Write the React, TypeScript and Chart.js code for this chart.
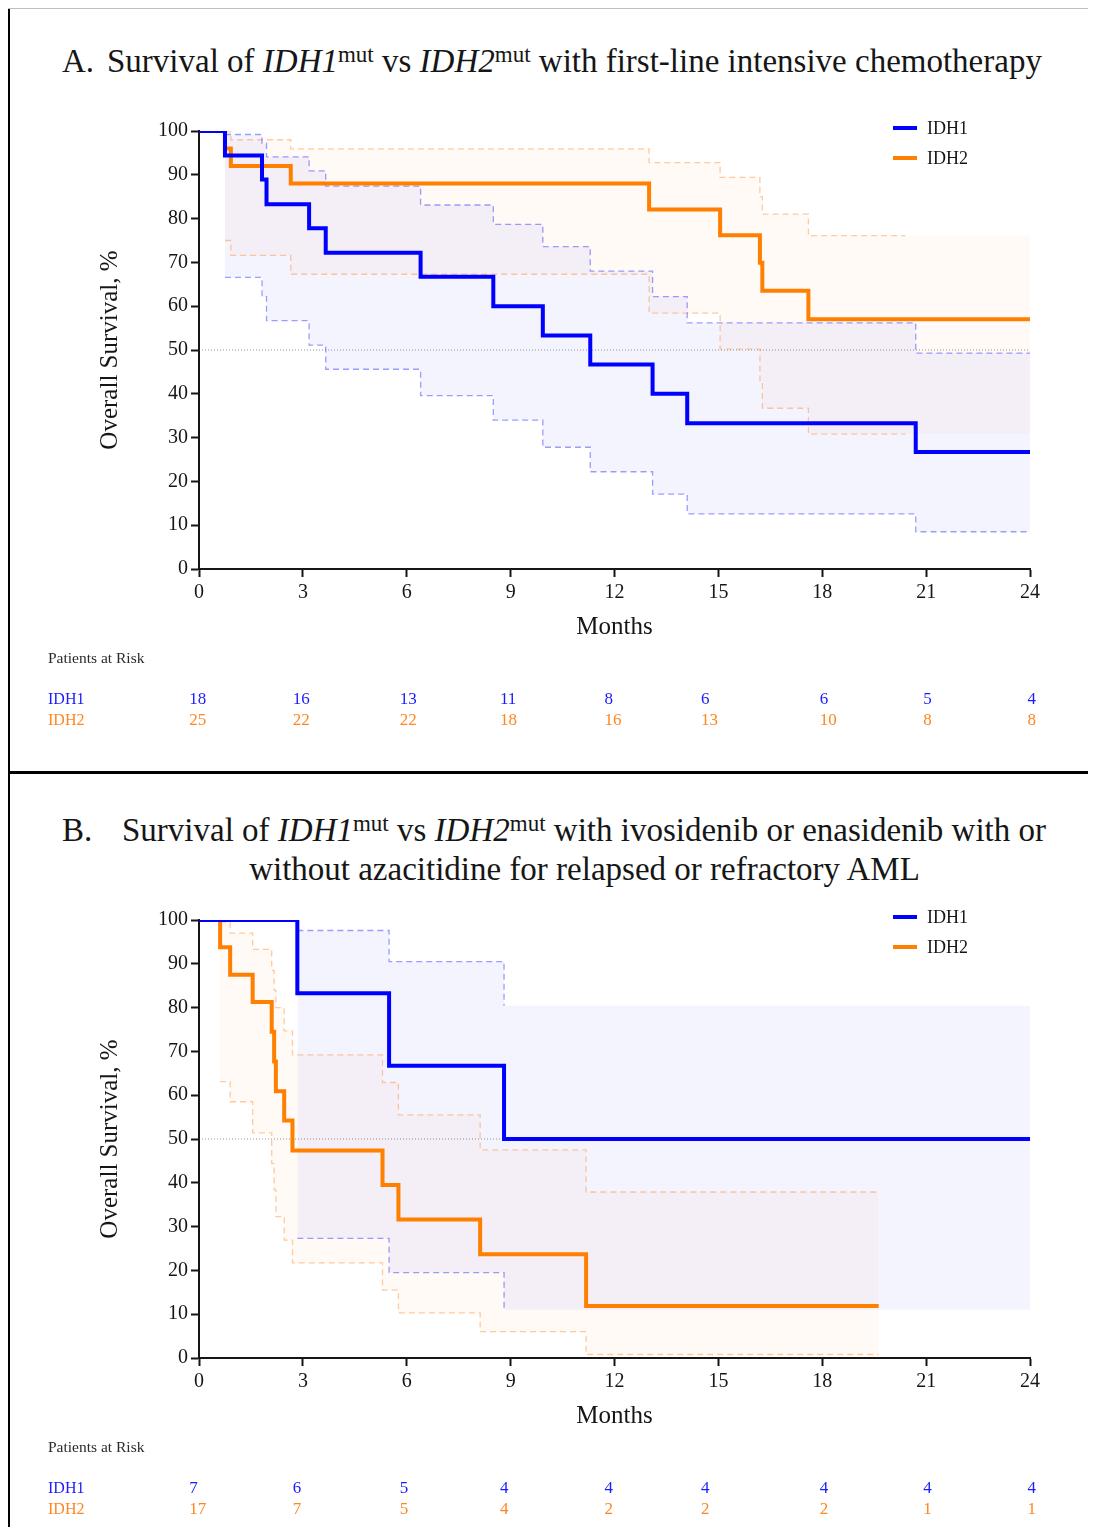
import React, { useEffect, useRef } from 'react';
import { Chart, registerables } from 'chart.js';

Chart.register(...registerables);

const SERIF = "'Liberation Serif', 'Times New Roman', Times, serif";
const BLUE = '#0000ff';
const ORANGE = '#ff7f00';
const BLUE_CI = 'rgba(40,40,255,0.45)';
const ORANGE_CI = 'rgba(255,140,40,0.45)';
const BLUE_BAND = 'rgba(0,0,255,0.045)';
const ORANGE_BAND = 'rgba(255,128,0,0.04)';
const INK = '#161616';

const seriesNames = ['IDH1', 'IDH2'];
const monthMin = 0;
const monthMax = 24;
const monthStep = 3;
const survMin = 0;
const survMax = 100;
const survStep = 10;
const medianLine = 50;
const riskColumnMonths = [-0.28, 2.71, 5.8, 8.69, 11.71, 14.5, 17.93, 20.92, 23.93];

// ---------- Panel A: first-line intensive chemotherapy ----------
const aIdh1Times = [0, 0.75, 1.82, 1.95, 3.18, 3.66, 6.4, 8.5, 9.93, 11.3, 13.1, 14.1, 20.7, 24];
const aIdh1Surv = [100, 94.4, 88.9, 83.3, 77.8, 72.2, 66.7, 60.0, 53.3, 46.7, 40.0, 33.3, 26.7, 26.7];
const aIdh1CiTimes = [0.75, 1.82, 1.95, 3.18, 3.66, 6.4, 8.5, 9.93, 11.3, 13.1, 14.1, 20.7, 24];
const aIdh1CiUpper = [99.2, 97.2, 94.1, 90.9, 87.4, 83.1, 78.7, 73.6, 68.0, 62.2, 56.2, 49.3, 49.3];
const aIdh1CiLower = [66.6, 62.2, 56.7, 51.1, 45.6, 39.6, 34.0, 27.8, 22.2, 17.1, 12.6, 8.5, 8.5];
const aIdh1CiLineEnd = 24;

const aIdh2Times = [0, 0.75, 0.92, 2.65, 13.0, 15.05, 16.2, 16.27, 17.6, 24];
const aIdh2Surv = [100, 96, 92, 88, 82.1, 76.2, 69.9, 63.5, 57.0, 57.0];
const aIdh2CiTimes = [0.75, 0.92, 2.65, 13.0, 15.05, 16.2, 16.27, 17.6, 24];
const aIdh2CiUpper = [99.8, 98.0, 95.9, 92.8, 89.4, 85.0, 81.0, 76.1, 76.1];
const aIdh2CiLower = [75.0, 71.6, 67.3, 58.4, 50.2, 43.0, 36.7, 30.8, 30.8];
const aIdh2CiLineEnd = 20.4;

const aIdh1Risk = [18, 16, 13, 11, 8, 6, 6, 5, 4];
const aIdh2Risk = [25, 22, 22, 18, 16, 13, 10, 8, 8];

// ---------- Panel B: ivosidenib / enasidenib +/- azacitidine ----------
const bIdh1Times = [0, 2.84, 5.49, 8.81, 24];
const bIdh1Surv = [100, 83.3, 66.7, 50.0, 50.0];
const bIdh1CiTimes = [2.84, 5.49, 8.81, 24];
const bIdh1CiUpper = [97.6, 90.5, 80.4, 80.4];
const bIdh1CiLower = [27.3, 19.5, 11.0, 11.0];
const bIdh1CiLineEnd = 8.81;

const bIdh2Times = [0, 0.61, 0.9, 1.55, 2.1, 2.17, 2.22, 2.46, 2.7, 5.3, 5.76, 8.12, 11.18, 19.63];
const bIdh2Surv = [100, 93.8, 87.5, 81.3, 74.5, 67.7, 60.9, 54.2, 47.4, 39.5, 31.6, 23.7, 11.9, 11.9];
const bIdh2CiTimes = [0.61, 0.9, 1.55, 2.1, 2.17, 2.22, 2.46, 2.7, 5.3, 5.76, 8.12, 11.18, 19.63];
const bIdh2CiUpper = [99.5, 97.0, 93.3, 88.5, 84.0, 80.0, 74.7, 69.2, 62.9, 55.5, 47.5, 37.9, 37.9];
const bIdh2CiLower = [63.1, 58.5, 51.4, 44.4, 38.4, 32.3, 26.9, 21.7, 15.5, 10.3, 6.0, 0.8, 0.8];
const bIdh2CiLineEnd = 19.63;

const bIdh1Risk = [7, 6, 5, 4, 4, 4, 4, 4, 4];
const bIdh2Risk = [17, 7, 5, 4, 2, 2, 2, 1, 1];

type Pt = { x: number; y: number };
const pts = (xs: number[], ys: number[]): Pt[] => xs.map((x, i) => ({ x, y: ys[i] }));
const upTo = (xs: number[], ys: number[], end: number): Pt[] => {
  const out: Pt[] = [];
  for (let i = 0; i < xs.length; i++) if (xs[i] <= end) out.push({ x: xs[i], y: ys[i] });
  if (out.length && out[out.length - 1].x < end) out.push({ x: end, y: out[out.length - 1].y });
  return out;
};

interface Group {
  name: string;
  times: number[];
  surv: number[];
  ciTimes: number[];
  ciUpper: number[];
  ciLower: number[];
  ciLineEnd: number;
  risk: number[];
  color: string;
  ciColor: string;
  bandColor: string;
  riskColor: string;
}

function buildDatasets(groups: Group[]) {
  const ds: any[] = [];
  const base = { pointRadius: 0, pointHoverRadius: 0, stepped: 'before', tension: 0 };
  groups.forEach((g) => {
    const lowerIdx = ds.length;
    ds.push({ ...base, data: pts(g.ciTimes, g.ciLower), borderColor: 'transparent', borderWidth: 0, fill: false, order: 10 });
    ds.push({ ...base, data: pts(g.ciTimes, g.ciUpper), borderColor: 'transparent', borderWidth: 0, backgroundColor: g.bandColor, fill: lowerIdx, order: 10 });
  });
  ds.push({
    ...base,
    stepped: false,
    data: [{ x: monthMin, y: medianLine }, { x: monthMax, y: medianLine }],
    borderColor: 'rgba(60,60,60,0.55)',
    borderWidth: 1,
    borderDash: [1, 2],
    fill: false,
    order: 6,
  });
  groups.forEach((g) => {
    ds.push({ ...base, data: upTo(g.ciTimes, g.ciUpper, g.ciLineEnd), borderColor: g.ciColor, borderWidth: 1.3, borderDash: [6, 4], fill: false, order: 4 });
    ds.push({ ...base, data: upTo(g.ciTimes, g.ciLower, g.ciLineEnd), borderColor: g.ciColor, borderWidth: 1.3, borderDash: [6, 4], fill: false, order: 4 });
  });
  groups.forEach((g, i) => {
    ds.push({ ...base, label: g.name, data: pts(g.times, g.surv), borderColor: g.color, borderWidth: 4, borderJoinStyle: 'miter', borderCapStyle: 'butt', fill: false, order: i });
  });
  return ds;
}

const tableAndLegend = (groups: Group[]) => ({
  id: 'tableAndLegend',
  afterDraw(chart: any) {
    const ctx = chart.ctx as CanvasRenderingContext2D;
    const area = chart.chartArea;
    const xs = chart.scales.x;
    ctx.save();
    groups.forEach((g, i) => {
      const y = area.top - 3 + i * 30;
      ctx.strokeStyle = g.color;
      ctx.lineWidth = 4;
      ctx.beginPath();
      ctx.moveTo(area.right - 137, y);
      ctx.lineTo(area.right - 113, y);
      ctx.stroke();
      ctx.fillStyle = INK;
      ctx.font = `18px ${SERIF}`;
      ctx.textAlign = 'left';
      ctx.textBaseline = 'middle';
      ctx.fillText(g.name, area.right - 103, y + 1);
    });
    const labelX = 36;
    ctx.textBaseline = 'middle';
    ctx.textAlign = 'left';
    ctx.fillStyle = '#2a2a2a';
    ctx.font = `15.5px ${SERIF}`;
    ctx.fillText('Patients at Risk', labelX, area.bottom + 90);
    groups.forEach((g, i) => {
      const y = area.bottom + 131 + i * 20.5;
      ctx.fillStyle = g.riskColor;
      ctx.font = `16px ${SERIF}`;
      ctx.fillText(g.name, labelX, y);
      ctx.font = `17px ${SERIF}`;
      g.risk.forEach((n, k) => {
        ctx.fillText(String(n), xs.getPixelForValue(riskColumnMonths[k]), y);
      });
    });
    ctx.restore();
  },
});

function KMPanel(props: { groups: Group[]; left: number; top: number; width: number; height: number; padTop: number; padBottom: number }) {
  const ref = useRef<HTMLCanvasElement>(null);
  useEffect(() => {
    const tickFont = { family: SERIF, size: 20 };
    const titleFont = { family: SERIF, size: 25 };
    const chart = new Chart(ref.current as HTMLCanvasElement, {
      type: 'line',
      data: { datasets: buildDatasets(props.groups) },
      options: {
        animation: false,
        responsive: false,
        maintainAspectRatio: false,
        events: [],
        layout: { padding: { left: 79, right: 62, top: props.padTop, bottom: props.padBottom } },
        plugins: { legend: { display: false }, tooltip: { enabled: false }, title: { display: false } },
        scales: {
          x: {
            type: 'linear',
            min: monthMin,
            max: monthMax,
            ticks: { stepSize: monthStep, font: tickFont, color: INK, padding: 4, maxRotation: 0, autoSkip: false },
            grid: { drawOnChartArea: false, drawTicks: true, tickLength: 8, tickColor: INK, tickWidth: 2 },
            border: { color: INK, width: 2 },
            title: { display: true, text: 'Months', font: titleFont, color: INK, padding: { top: 0, bottom: 2 } },
            afterFit: (s: any) => { s.height = 75; },
          },
          y: {
            type: 'linear',
            min: survMin,
            max: survMax,
            ticks: { stepSize: survStep, font: tickFont, color: INK, padding: 3 },
            grid: { drawOnChartArea: false, drawTicks: true, tickLength: 8, tickColor: INK, tickWidth: 2 },
            border: { color: INK, width: 2 },
            title: { display: true, text: 'Overall Survival, %', font: titleFont, color: INK, padding: { top: 4, bottom: 0 } },
            afterFit: (s: any) => { s.width = 108; },
          },
        },
      } as any,
      plugins: [tableAndLegend(props.groups)],
    });
    return () => chart.destroy();
  }, []);
  return (
    <canvas
      ref={ref}
      width={props.width}
      height={props.height}
      style={{ position: 'absolute', left: props.left, top: props.top, width: props.width, height: props.height }}
    />
  );
}

const groupsA: Group[] = [
  { name: seriesNames[0], times: aIdh1Times, surv: aIdh1Surv, ciTimes: aIdh1CiTimes, ciUpper: aIdh1CiUpper, ciLower: aIdh1CiLower, ciLineEnd: aIdh1CiLineEnd, risk: aIdh1Risk, color: BLUE, ciColor: BLUE_CI, bandColor: BLUE_BAND, riskColor: '#1c1cff' },
  { name: seriesNames[1], times: aIdh2Times, surv: aIdh2Surv, ciTimes: aIdh2CiTimes, ciUpper: aIdh2CiUpper, ciLower: aIdh2CiLower, ciLineEnd: aIdh2CiLineEnd, risk: aIdh2Risk, color: ORANGE, ciColor: ORANGE_CI, bandColor: ORANGE_BAND, riskColor: '#ff8620' },
];
const groupsB: Group[] = [
  { name: seriesNames[0], times: bIdh1Times, surv: bIdh1Surv, ciTimes: bIdh1CiTimes, ciUpper: bIdh1CiUpper, ciLower: bIdh1CiLower, ciLineEnd: bIdh1CiLineEnd, risk: bIdh1Risk, color: BLUE, ciColor: BLUE_CI, bandColor: BLUE_BAND, riskColor: '#1c1cff' },
  { name: seriesNames[1], times: bIdh2Times, surv: bIdh2Surv, ciTimes: bIdh2CiTimes, ciUpper: bIdh2CiUpper, ciLower: bIdh2CiLower, ciLineEnd: bIdh2CiLineEnd, risk: bIdh2Risk, color: ORANGE, ciColor: ORANGE_CI, bandColor: ORANGE_BAND, riskColor: '#ff8620' },
];

const Mut = () => (
  <span style={{ fontSize: 23, position: 'relative', top: -10, fontStyle: 'normal' }}>mut</span>
);

const titleStyle: React.CSSProperties = {
  position: 'absolute',
  fontFamily: SERIF,
  fontSize: 33,
  lineHeight: '40px',
  color: INK,
  whiteSpace: 'nowrap',
};

export default function App() {
  return (
    <div style={{ position: 'relative', width: 1088, height: 1519, fontFamily: SERIF }}>
      <div style={{ position: 'absolute', left: -2, top: 0, width: 4, height: 1519, background: '#000' }} />
      <div style={{ position: 'absolute', left: 0, top: 0, width: 1088, height: 1, background: '#bdbdbd' }} />
      <div style={{ position: 'absolute', left: 0, top: 763, width: 1088, height: 3, background: '#000' }} />

      <div style={{ ...titleStyle, left: 54, top: 33 }}>A.</div>
      <div style={{ ...titleStyle, left: 99, top: 33 }}>
        Survival of <i>IDH1</i><Mut /> vs <i>IDH2</i><Mut /> with first-line intensive chemotherapy
      </div>

      <div style={{ ...titleStyle, left: 54, top: 802 }}>B.</div>
      <div style={{ ...titleStyle, left: 114, top: 802 }}>
        Survival of <i>IDH1</i><Mut /> vs <i>IDH2</i><Mut /> with ivosidenib or enasidenib with or
      </div>
      <div style={{ ...titleStyle, left: 576.5, top: 841, transform: 'translateX(-50%)' }}>
        without azacitidine for relapsed or refractory AML
      </div>

      <KMPanel groups={groupsA} left={4} top={82} width={1080} height={680} padTop={41} padBottom={126} />
      <KMPanel groups={groupsB} left={4} top={870} width={1080} height={645} padTop={42} padBottom={90} />
    </div>
  );
}
